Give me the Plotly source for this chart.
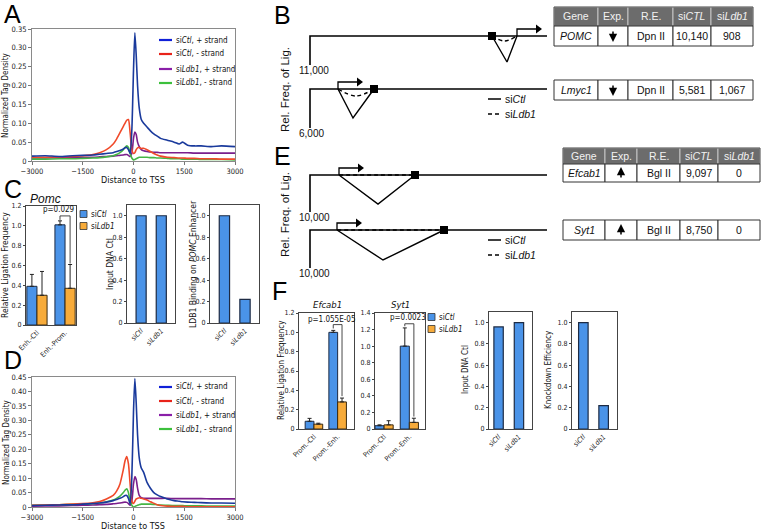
import plotly.graph_objects as go

W, H = 762, 531
FONT = "Liberation Sans"
NARROW = "Liberation Sans Narrow, DejaVu Sans Condensed, Liberation Sans"


def fx(px):
    return px / W


def fy(py):
    return 1 - py / H


# ---------------- data: panels A and D (tag density profiles) ----------------
tss_dist = [-3000, -2600, -2200, -1800, -1500, -1200, -1000, -800, -600, -500, -400, -300,
            -250, -200, -150, -100, -50, 0, 40, 80, 120, 170, 230, 300, 400, 500, 600, 700,
            800, 1000, 1200, 1350, 1450, 1600, 1800, 2000, 2300, 2600, 3000]

A_ctl_plus = [0.013, 0.014, 0.012, 0.014, 0.015, 0.016, 0.018, 0.020, 0.022, 0.025, 0.028, 0.032,
              0.035, 0.036, 0.030, 0.020, 0.080, 0.240, 0.340, 0.280, 0.200, 0.140, 0.110, 0.100,
              0.090, 0.080, 0.072, 0.066, 0.060, 0.055, 0.050, 0.045, 0.050, 0.042, 0.040, 0.040,
              0.038, 0.040, 0.038]
A_ctl_minus = [0.010, 0.010, 0.011, 0.012, 0.014, 0.017, 0.022, 0.030, 0.045, 0.058, 0.075, 0.092,
               0.100, 0.108, 0.110, 0.075, 0.030, 0.020, 0.022, 0.030, 0.035, 0.036, 0.033, 0.034,
               0.030, 0.025, 0.020, 0.016, 0.013, 0.010, 0.009, 0.008, 0.008, 0.007, 0.007, 0.006,
               0.006, 0.005, 0.005]
A_ldb_plus = [0.008, 0.008, 0.009, 0.009, 0.010, 0.010, 0.011, 0.012, 0.013, 0.014, 0.015, 0.016,
              0.017, 0.017, 0.015, 0.012, 0.020, 0.060, 0.077, 0.070, 0.050, 0.038, 0.030, 0.027,
              0.025, 0.024, 0.023, 0.023, 0.022, 0.022, 0.022, 0.022, 0.022, 0.022, 0.021, 0.021,
              0.021, 0.021, 0.021]
A_ldb_minus = [0.005, 0.005, 0.006, 0.006, 0.007, 0.008, 0.009, 0.011, 0.014, 0.017, 0.022, 0.030,
               0.036, 0.040, 0.036, 0.020, 0.008, 0.003, 0.004, 0.006, 0.008, 0.010, 0.010, 0.010,
               0.010, 0.009, 0.009, 0.008, 0.008, 0.007, 0.006, 0.006, 0.005, 0.005, 0.005, 0.004,
               0.004, 0.004, 0.003]

D_ctl_plus = [0.005, 0.006, 0.007, 0.008, 0.010, 0.012, 0.014, 0.017, 0.022, 0.026, 0.030, 0.036,
              0.040, 0.040, 0.030, 0.010, 0.100, 0.330, 0.445, 0.360, 0.250, 0.170, 0.135, 0.120,
              0.085, 0.065, 0.050, 0.042, 0.036, 0.028, 0.022, 0.020, 0.018, 0.017, 0.016, 0.015,
              0.014, 0.014, 0.013]
D_ctl_minus = [0.006, 0.007, 0.008, 0.010, 0.012, 0.015, 0.019, 0.028, 0.040, 0.055, 0.080, 0.130,
               0.160, 0.175, 0.150, 0.080, 0.020, 0.012, 0.020, 0.028, 0.030, 0.032, 0.030, 0.028,
               0.024, 0.018, 0.013, 0.008, 0.005, 0.003, 0.002, 0.002, 0.002, 0.001, 0.001, 0.001,
               0.001, 0.001, 0.001]
D_ldb_plus = [0.003, 0.004, 0.004, 0.005, 0.006, 0.007, 0.008, 0.009, 0.011, 0.012, 0.014, 0.016,
              0.017, 0.016, 0.012, 0.006, 0.020, 0.080, 0.105, 0.095, 0.065, 0.040, 0.032, 0.030,
              0.030, 0.030, 0.030, 0.030, 0.030, 0.030, 0.029, 0.029, 0.029, 0.029, 0.029, 0.029,
              0.028, 0.028, 0.028]
D_ldb_minus = [0.006, 0.007, 0.008, 0.009, 0.010, 0.012, 0.014, 0.018, 0.024, 0.030, 0.038, 0.050,
               0.058, 0.063, 0.050, 0.020, 0.006, 0.000, 0.002, 0.004, 0.006, 0.008, 0.010, 0.010,
               0.010, 0.010, 0.009, 0.008, 0.007, 0.006, 0.005, 0.005, 0.005, 0.004, 0.004, 0.004,
               0.003, 0.003, 0.003]

profile_names = ["si<i>Ctl</i>, + strand", "si<i>Ctl</i>, - strand",
                 "si<i>Ldb1</i>, + strand", "si<i>Ldb1</i>, - strand"]
profile_colors = ["#1a3a9c", "#f04a2a", "#7a1f8c", "#45b545"]
legend_colors = ["#1020d8", "#e8231a", "#8a1fa8", "#3cc03c"]

# ---------------- data: bar charts ----------------
C_groups = ["Enh.-Ctl", "Enh.-Prom."]
C_ctl = [0.39, 1.01]
C_ctl_err = [0.12, 0.04]
C_ldb = [0.30, 0.37]
C_ldb_err = [0.24, 0.24]
C_pval = "p=0.029"

si_labels = ["si<i>Ctl</i>", "si<i>Ldb1</i>"]
C_input = [1.0, 1.0]
C_binding = [1.0, 0.22]

F_groups = ["Prom.-Ctl", "Prom.-Enh."]
F_efcab_ctl = [0.08, 1.00]
F_efcab_ctl_err = [0.03, 0.02]
F_efcab_ldb = [0.05, 0.28]
F_efcab_ldb_err = [0.01, 0.04]
F_efcab_pval = "p=1.055E-05"
F_syt_ctl = [0.04, 1.00]
F_syt_ctl_err = [0.01, 0.22]
F_syt_ldb = [0.05, 0.08]
F_syt_ldb_err = [0.05, 0.05]
F_syt_pval = "p=0.0023"
F_input = [0.96, 1.0]
F_knockdown = [1.0, 0.22]

BLUE = "#4a93e8"
ORANGE = "#f7ab3a"

# ---------------- data: tables ----------------
table_header = ["Gene", "Exp.", "R.E.", "si<i>CTL</i>", "si<i>Ldb1</i>"]
table_rows = [
    ["<i>POMC</i>", "", "Dpn II", "10,140", "908"],
    ["<i>Lmyc1</i>", "", "Dpn II", "5,581", "1,067"],
    ["<i>Efcab1</i>", "", "Bgl II", "9,097", "0"],
    ["<i>Syt1</i>", "", "Bgl II", "8,750", "0"],
]
expression_change = [-1, -1, 1, 1]   # down for POMC, Lmyc1; up for Efcab1, Syt1

# ---------------- data: loop diagrams (schematic units) ----------------
diag_left = 310
diag_right = 547
diag_base = [36, 89, 175, 230]
diag_floor = [65, 128, 212, 268]
diag_floor_label = ["11,000", "6,000", "10,000", "10,000"]
diag_tss = [517, 338, 339, 337]
diag_enh = [492, 374, 415, 444]
diag_loop_x = [507, 353, 378, 383]
diag_loop_y = [62, 118, 204, 260]
diag_dash_dip = [5, 7, 0, 0]
arrow_rise = 7
arrow_len = 21

fig = go.Figure()

# ---------------- A and D profiles ----------------
for ax, series in (("", [A_ctl_plus, A_ctl_minus, A_ldb_plus, A_ldb_minus]),
                   ("2", [D_ctl_plus, D_ctl_minus, D_ldb_plus, D_ldb_minus])):
    order = [2, 3, 1, 0]
    for i in order:
        fig.add_trace(go.Scatter(x=tss_dist, y=series[i], mode="lines", name=profile_names[i],
                                 line=dict(color=profile_colors[i], width=1.6, shape="spline",
                                           smoothing=0.6),
                                 xaxis="x" + ax, yaxis="y" + ax, showlegend=False, hoverinfo="skip"))


# ---------------- bars ----------------
def grouped(axn, groups, ctl, ctl_err, ldb, ldb_err, w):
    pos = list(range(len(groups)))
    fig.add_trace(go.Bar(x=pos, y=ctl, width=w, offset=-w, marker=dict(color=BLUE, line=dict(color="#1d2b44", width=1)),
                         error_y=dict(type="data", array=ctl_err, arrayminus=[0] * len(ctl), symmetric=False,
                                      color="#222", thickness=1, width=2),
                         xaxis="x" + axn, yaxis="y" + axn, showlegend=False))
    fig.add_trace(go.Bar(x=pos, y=ldb, width=w, offset=0, marker=dict(color=ORANGE, line=dict(color="#3a2a10", width=1)),
                         error_y=dict(type="data", array=ldb_err, arrayminus=[0] * len(ldb), symmetric=False,
                                      color="#222", thickness=1, width=2),
                         xaxis="x" + axn, yaxis="y" + axn, showlegend=False))


def bracket(axn, ctl, ctl_err, ldb, ldb_err, w, top, pad):
    g = 1
    xl = g - w / 2
    xr = g + w / 2
    fig.add_trace(go.Scatter(x=[xl, xl, xr, xr],
                             y=[ctl[g] + ctl_err[g] + pad, top, top, ldb[g] + ldb_err[g] + pad],
                             mode="lines", line=dict(color="#333", width=0.9),
                             xaxis="x" + axn, yaxis="y" + axn, showlegend=False))


def single(axn, vals, w):
    fig.add_trace(go.Bar(x=list(range(len(vals))), y=vals, width=w,
                         marker=dict(color=BLUE, line=dict(color="#1d2b44", width=1.2)),
                         xaxis="x" + axn, yaxis="y" + axn, showlegend=False))


grouped("3", C_groups, C_ctl, C_ctl_err, C_ldb, C_ldb_err, 0.36)
bracket("3", C_ctl, C_ctl_err, C_ldb, C_ldb_err, 0.36, 1.10, 0.01)
single("4", C_input, 0.5)
single("5", C_binding, 0.5)
grouped("6", F_groups, F_efcab_ctl, F_efcab_ctl_err, F_efcab_ldb, F_efcab_ldb_err, 0.37)
bracket("6", F_efcab_ctl, F_efcab_ctl_err, F_efcab_ldb, F_efcab_ldb_err, 0.37, 1.08, 0.02)
grouped("7", F_groups, F_syt_ctl, F_syt_ctl_err, F_syt_ldb, F_syt_ldb_err, 0.36)
bracket("7", F_syt_ctl, F_syt_ctl_err, F_syt_ldb, F_syt_ldb_err, 0.36, 1.27, 0.02)
single("8", F_input, 0.46)
single("9", F_knockdown, 0.47)

# ---------------- diagrams ----------------
for k in range(4):
    b = diag_base[k]
    fig.add_trace(go.Scatter(x=[diag_left, diag_left, diag_right], y=[diag_floor[k], b, b], mode="lines",
                             line=dict(color="black", width=1.6), xaxis="x10", yaxis="y10", showlegend=False))
    a, e = diag_tss[k], diag_enh[k]
    fig.add_trace(go.Scatter(x=[min(a, e), diag_loop_x[k], max(a, e)], y=[b, diag_loop_y[k], b], mode="lines",
                             line=dict(color="black", width=1.4), xaxis="x10", yaxis="y10", showlegend=False))
    fig.add_trace(go.Scatter(x=[min(a, e), (a + e) / 2, max(a, e)], y=[b, b + diag_dash_dip[k], b],
                             mode="lines", line=dict(color="black", width=1.4, dash="4px,3px", shape="spline"),
                             xaxis="x10", yaxis="y10", showlegend=False))
    fig.add_trace(go.Scatter(x=[a, a, a + arrow_len], y=[b, b - arrow_rise, b - arrow_rise], mode="lines",
                             line=dict(color="black", width=1.3), xaxis="x10", yaxis="y10", showlegend=False))
    fig.add_trace(go.Scatter(x=[a + arrow_len], y=[b - arrow_rise], mode="markers",
                             marker=dict(symbol="triangle-right", size=8, color="black"),
                             xaxis="x10", yaxis="y10", showlegend=False))
    fig.add_trace(go.Scatter(x=[e], y=[b], mode="markers",
                             marker=dict(symbol="square", size=8, color="black"),
                             xaxis="x10", yaxis="y10", showlegend=False))

# ---------------- layout ----------------
tickf = dict(size=7, family=NARROW, color="#222")


def prof_axes(n, top, bot, ymax, yt):
    sfx = "" if n == 1 else str(n)
    tf = dict(size=7.5, family=NARROW, color="#222")
    xa = dict(domain=[fx(32), fx(235)], anchor="y" + sfx, range=[-3000, 3000], automargin=False,
              tickvals=[-3000, -1500, 0, 1500, 3000], ticks="outside", ticklen=3, tickcolor="#777",
              showline=True, mirror=True, linecolor="#8a8a8a", linewidth=1, showgrid=False,
              zeroline=False, tickfont=tf)
    ya = dict(domain=[fy(bot), fy(top)], anchor="x" + sfx, range=[0, ymax], tickvals=yt, automargin=False,
              ticktext=["0"] + ["%.2f" % v for v in yt[1:]], ticks="outside", ticklen=3,
              tickcolor="#777", showline=True, mirror=True, linecolor="#8a8a8a", linewidth=1,
              showgrid=False, zeroline=False, tickfont=tf)
    return xa, ya


def bar_axes(n, x0, x1, top, bot, xr, ymax, yt, ticktext, tickvals=None):
    s = str(n)
    xa = dict(domain=[fx(x0), fx(x1)], anchor="y" + s, range=xr, tickvals=tickvals or [0, 1], automargin=False,
              ticktext=ticktext, tickangle=-45, ticks="", showline=True, mirror=True,
              linecolor="#444", linewidth=1, showgrid=False, zeroline=False, tickfont=tickf)
    ya = dict(domain=[fy(bot), fy(top)], anchor="x" + s, range=[0, ymax], tickvals=yt, automargin=False,
              ticktext=["0"] + ["%.1f" % v for v in yt[1:]], ticks="outside", ticklen=2,
              tickcolor="#444", showline=True, mirror=True, linecolor="#444", linewidth=1,
              showgrid=False, zeroline=False, tickfont=tickf)
    return xa, ya


lay = dict(template="none", width=W, height=H, margin=dict(l=0, r=0, t=0, b=0, pad=0), autosize=False,
           paper_bgcolor="white", plot_bgcolor="white", font=dict(family=FONT, color="#111"),
           showlegend=False, barmode="overlay")
xa, ya = prof_axes(1, 29, 161, 0.35, [0, 0.05, 0.10, 0.15, 0.20, 0.25, 0.30, 0.35])
lay["xaxis"], lay["yaxis"] = xa, ya
xa, ya = prof_axes(2, 377, 507, 0.45, [0, 0.05, 0.10, 0.15, 0.20, 0.25, 0.30, 0.35, 0.40, 0.45])
lay["xaxis2"], lay["yaxis2"] = xa, ya

yt12 = [0, 0.2, 0.4, 0.6, 0.8, 1.0, 1.2]
yt10 = [0, 0.2, 0.4, 0.6, 0.8, 1.0]
yt14 = [0, 0.2, 0.4, 0.6, 0.8, 1.0, 1.2, 1.4]
specs = [
    (3, 26, 76, 206, 325, [-0.39, 1.39], 1.2, yt12, C_groups),
    (4, 127, 175, 205, 323, [-0.7, 1.68], 1.1, yt10, si_labels),
    (5, 210, 259, 205, 323, [-0.7, 1.68], 1.1, yt10, si_labels),
    (6, 299, 354, 313, 429, [-0.63, 1.69], 1.2, yt12, F_groups),
    (7, 375, 425, 313, 429, [-0.36, 1.62], 1.4, yt14, F_groups),
    (8, 489, 532, 312, 429, [-0.47, 1.64], 1.1, yt10, si_labels),
    (9, 572, 617, 312, 429, [-0.56, 1.66], 1.1, yt10, si_labels),
]
for n, x0, x1, top, bot, xr, ymax, yt, tt in specs:
    xa, ya = bar_axes(n, x0, x1, top, bot, xr, ymax, yt, tt)
    lay["xaxis%d" % n], lay["yaxis%d" % n] = xa, ya

lay["xaxis10"] = dict(domain=[fx(270), fx(560)], anchor="y10", range=[270, 560], visible=False, automargin=False)
lay["yaxis10"] = dict(domain=[fy(290), fy(0)], anchor="x10", range=[290, 0], visible=False, automargin=False)
fig.update_layout(**lay)

ann = []
shapes = []


def text(x, y, t, size=9, angle=0, xanchor="center", italic=False, color="#111", family=NARROW):
    ann.append(dict(x=fx(x), y=fy(y), xref="paper", yref="paper", text=("<i>%s</i>" % t) if italic else t,
                    showarrow=False, textangle=angle, xanchor=xanchor, yanchor="middle",
                    font=dict(size=size, family=family, color=color)))


def rect(x0, y0, x1, y1, fill, line, lw=1):
    shapes.append(dict(type="rect", xref="paper", yref="paper", x0=fx(x0), x1=fx(x1), y0=fy(y1), y1=fy(y0),
                       fillcolor=fill, line=dict(color=line, width=lw), layer="above"))


# ---------------- tables (drawn from table_header / table_rows) ----------------
table_geom = [  # x0, column widths, header top (None = no header), header height, row top, row height
    (554, [44, 30, 45, 38, 42], 7, 19, 26, 20),
    (554, [44, 30, 45, 38, 42], None, 0, 80, 20),
    (563, [42, 32, 43, 38, 42], 148, 16, 164, 18),
    (563, [42, 32, 43, 38, 42], None, 0, 220, 20),
]
for (x0, widths, htop, hh, rtop, rh), row, d in zip(table_geom, table_rows, expression_change):
    xs = [x0]
    for w_ in widths:
        xs.append(xs[-1] + w_)
    if htop is not None:
        for c in range(5):
            rect(xs[c], htop, xs[c + 1], htop + hh, "#6c6c6c", "#d8d8d8", 0.8)
            text((xs[c] + xs[c + 1]) / 2, htop + hh / 2, table_header[c], size=10.5, color="#f2f2f2", family=FONT)
        rect(xs[0], htop, xs[-1], htop + hh, "rgba(0,0,0,0)", "#555", 1)
    for c in range(5):
        rect(xs[c], rtop, xs[c + 1], rtop + rh, "white", "#333", 1)
        if row[c]:
            text((xs[c] + xs[c + 1]) / 2, rtop + rh / 2, row[c], size=10.5, color="#111", family=FONT)
    cx = (xs[1] + xs[2]) / 2
    cy = rtop + rh / 2
    ann.append(dict(x=fx(cx), y=fy(cy - 6 * d), xref="paper", yref="paper", text="", showarrow=True,
                    ax=0, ay=12 * d, axref="pixel", ayref="pixel", arrowhead=2, arrowsize=1.1, arrowwidth=1.5,
                    arrowcolor="black", standoff=0, startstandoff=0))

# panel letters
for lab, x, y in (("A", 2, 14), ("B", 272, 15), ("C", 2, 189), ("D", 2, 360), ("E", 272, 156), ("F", 270, 291)):
    text(x, y, lab, size=25, xanchor="left", color="black", family=FONT)

# profile titles / legends
text(6, 95, "Normalized Tag Density", size=8, angle=-90)
text(133, 180, "Distance to TSS", size=9)
text(6, 442, "Normalized Tag Density", size=8, angle=-90)
text(133, 525.5, "Distance to TSS", size=9)
for ys in ([40, 54, 69, 83], [387, 401, 415, 429]):
    for i, yy in enumerate(ys):
        shapes.append(dict(type="line", xref="paper", yref="paper", x0=fx(159), x1=fx(172), y0=fy(yy), y1=fy(yy),
                           line=dict(color=legend_colors[i], width=2.2)))
        text(174, yy, profile_names[i], size=8, xanchor="left")

# bar legends
for (x, ys) in ((80, [214, 226]), (428, [317, 329])):
    for yy, col, lab in zip(ys, [BLUE, ORANGE], si_labels):
        rect(x, yy - 3.5, x + 7, yy + 3.5, col, "#333", 0.8)
        text(x + 9, yy, lab, size=8, xanchor="left")

# bar chart titles
text(45, 199, "Pomc", size=12, italic=True, family=FONT)
text(327, 304, "Efcab1", size=9.5, italic=True)
text(400, 304, "Syt1", size=9.5, italic=True)
text(5, 265, "Relative Ligation Frequency", size=8.5, angle=-90)
text(110, 264, "Input DNA Ctl", size=8.5, angle=-90)
text(193, 264, "LDB1 Binding on <i>POMC</i> Enhancer", size=8.5, angle=-90)
text(281, 370, "Relative Ligation Frequency", size=8, angle=-90)
text(465, 370, "Input DNA Ctl", size=8, angle=-90)
text(548, 370, "Knockdown Efficiency", size=8, angle=-90)

# p values (data coords)
for axn, xv, yv, t in (("3", 0.78, 1.16, C_pval), ("6", 0.78, 1.135, F_efcab_pval), ("7", 0.93, 1.34, F_syt_pval)):
    ann.append(dict(x=xv, y=yv, xref="x" + axn, yref="y" + axn, text=t, showarrow=False,
                    font=dict(size=8, family=NARROW, color="#111")))

# diagram labels
text(285, 90, "Rel. Freq. of Lig.", size=11.5, angle=-90, family=FONT)
text(285, 215, "Rel. Freq. of Lig.", size=11.5, angle=-90, family=FONT)
for k in range(4):
    ann.append(dict(x=diag_left - 13, y=diag_floor[k] + 5, xref="x10", yref="y10", text=diag_floor_label[k],
                    showarrow=False, xanchor="left", font=dict(size=10, family=FONT, color="#111")))
for y1, y2 in ((99, 114), (240, 255)):
    shapes.append(dict(type="line", xref="x10", yref="y10", x0=488, x1=501, y0=y1, y1=y1,
                       line=dict(color="black", width=1.5)))
    shapes.append(dict(type="line", xref="x10", yref="y10", x0=488, x1=501, y0=y2, y1=y2,
                       line=dict(color="black", width=1.5, dash="4px,3px")))
    ann.append(dict(x=503, y=y1, xref="x10", yref="y10", text="si<i>Ctl</i>", showarrow=False, xanchor="left",
                    font=dict(size=10.5, family=FONT, color="#111")))
    ann.append(dict(x=503, y=y2, xref="x10", yref="y10", text="si<i>Ldb1</i>", showarrow=False, xanchor="left",
                    font=dict(size=10.5, family=FONT, color="#111")))

fig.update_layout(annotations=ann, shapes=shapes)
fig.write_html("out.html", config={"displayModeBar": False, "staticPlot": True},
               post_script="document.body.style.margin='0px';document.body.style.overflow='hidden';")
